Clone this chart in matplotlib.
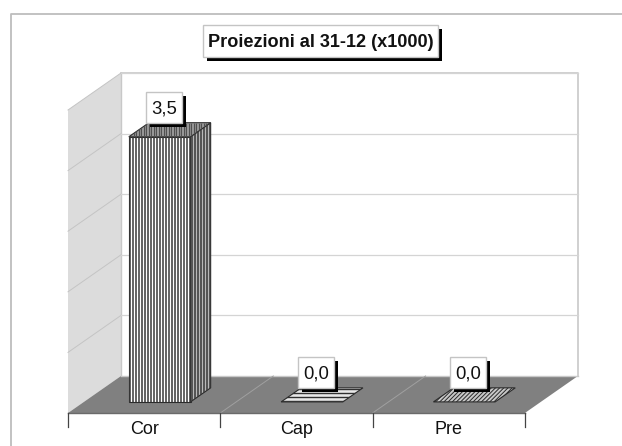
import matplotlib.pyplot as plt
import numpy as np
from matplotlib.collections import LineCollection
from matplotlib.patches import Polygon, Rectangle

CATEGORIES = ["Cor", "Cap", "Pre"]
VALUES     = [3.5, 0.0, 0.0]
LABELS     = ["3,5", "0,0", "0,0"]
TITLE      = "Proiezioni al 31-12 (x1000)"
AXIS_MAX   = 4.0
GRID_VALS  = [0.8, 1.6, 2.4, 3.2, 4.0]

# pixel geometry of the fake 3d box
X_FRONT, X_SPAN = 68.0, 152.3
Y_FLOOR, Y_H    = 413.0, 303.0
DX, DY          = 53.0, 37.0
BAR_START       = 0.295
BAR_WIDTH       = 0.405
DEPTH_A, DEPTH_B = 0.30, 0.68

FLOOR_COL = "#808080"
WALL_COL  = "#dcdcdc"
GRID_COL  = "#d4d4d4"
EDGE_COL  = "#2a2a2a"


def project(cat, depth, value):
    x = X_FRONT + cat * X_SPAN + depth * DX
    y = Y_FLOOR - depth * DY - value / AXIS_MAX * Y_H
    return x, y


def face(ax, pts, color, zorder, edge=EDGE_COL, **kw):
    patch = Polygon(pts, closed=True, facecolor=color, edgecolor=edge,
                    linewidth=0.8, zorder=zorder, **kw)
    ax.add_patch(patch)
    return patch


def stripes(ax, patch, segs, color, lw, zorder):
    lines = LineCollection(segs, colors=color, linewidths=lw, zorder=zorder)
    ax.add_collection(lines)
    lines.set_clip_path(patch)


def shadow_box(ax, cx, y0, y1, half_w, text, **kw):
    ax.add_patch(Rectangle((cx - half_w + 4, y0 + 4), 2 * half_w, y1 - y0,
                           facecolor="black", edgecolor="none", zorder=20))
    ax.add_patch(Rectangle((cx - half_w, y0), 2 * half_w, y1 - y0, facecolor="white",
                           edgecolor="#c4c4c4", linewidth=1.0, zorder=21))
    ax.text(cx, (y0 + y1) / 2 + 1.5, text, ha="center", va="center", zorder=22,
            color="#111111", **kw)


def draw_bar(ax, idx, value):
    left, right = idx + BAR_START, idx + BAR_START + BAR_WIDTH
    fbl = project(left, DEPTH_A, 0)
    fbr = project(right, DEPTH_A, 0)
    ftl = project(left, DEPTH_A, value)
    ftr = project(right, DEPTH_A, value)
    bbr = project(right, DEPTH_B, 0)
    btr = project(right, DEPTH_B, value)
    btl = project(left, DEPTH_B, value)

    if value > 0:
        front = face(ax, [fbl, fbr, ftr, ftl], "white", 5)
        xs = np.arange(fbl[0] + 1.5, fbr[0], 3.0)
        stripes(ax, front, [[(x, ftl[1]), (x, fbl[1])] for x in xs], "#383838", 1.1, 6)

        side = face(ax, [fbr, bbr, btr, ftr], "#b8b8b8", 5)
        xs = np.arange(fbr[0] + 1.5, bbr[0], 3.0)
        stripes(ax, side, [[(x, btr[1]), (x, fbr[1])] for x in xs], "#383838", 1.1, 6)

        top = face(ax, [ftl, ftr, btr, btl], "#a8a8a8", 5)
        xs = np.arange(ftl[0], btr[0], 2.5)
        stripes(ax, top, [[(x, btr[1]), (x, ftr[1])] for x in xs], "#505050", 1.0, 6)
    elif idx == 1:
        top = face(ax, [ftl, ftr, btr, btl], "#e8e8e8", 5)
        ys = np.arange(btr[1] + 1.5, ftr[1], 3.8)
        stripes(ax, top, [[(ftl[0], y), (btr[0], y)] for y in ys], "#303030", 1.0, 6)
    else:
        plt.rcParams["hatch.linewidth"] = 0.7
        plt.rcParams["hatch.color"] = "#303030"
        face(ax, [ftl, ftr, btr, btl], "#c8c8c8", 5, hatch="////////")

    return btr[1]


def main():
    fig = plt.figure(figsize=(6.22, 4.46), dpi=100)
    plt.rcParams["font.family"] = ["Liberation Sans", "DejaVu Sans"]
    ax = fig.add_axes([0, 0, 1, 1])
    ax.set_xlim(0, 622)
    ax.set_ylim(446, 0)
    ax.axis("off")

    # outer chart border, only top and left show
    ax.plot([10.5, 10.5, 622], [446, 13.5, 13.5], color="#bdbdbd", lw=1.3, zorder=1)

    n_cat = len(CATEGORIES)

    # walls
    face(ax, [project(0, 0, 0), project(0, 1, 0), project(0, 1, AXIS_MAX), project(0, 0, AXIS_MAX)],
         WALL_COL, 2, edge="none")
    ax.plot(*zip(project(0, 1, AXIS_MAX), project(n_cat, 1, AXIS_MAX), project(n_cat, 1, 0)),
            color="#c8c8c8", lw=1.2, zorder=2)
    ax.plot(*zip(project(0, 1, 0), project(0, 1, AXIS_MAX)), color="#c8c8c8", lw=1.0, zorder=2)

    # gridlines, wall side and back side
    for val in GRID_VALS:
        ax.plot(*zip(project(0, 0, val), project(0, 1, val)), color="#c4c4c4", lw=0.7, zorder=2)
        ax.plot(*zip(project(0, 1, val), project(n_cat, 1, val)), color=GRID_COL, lw=0.9, zorder=2)

    # floor
    face(ax, [project(0, 0, 0), project(n_cat, 0, 0), project(n_cat, 1, 0), project(0, 1, 0)],
         FLOOR_COL, 3, edge="none")
    ax.plot(*zip(project(0, 1, 0), project(n_cat, 1, 0)), color="#c8c8c8", lw=1.0, zorder=3)
    for i in range(1, n_cat):
        ax.plot(*zip(project(i, 0, 0), project(i, 1, 0)), color="#a0a0a0", lw=0.7, zorder=4)

    # category axis
    ax.plot(*zip(project(0, 0, 0), project(n_cat, 0, 0)), color="#6a6a6a", lw=1.0, zorder=4)
    for i in range(n_cat + 1):
        x, y = project(i, 0, 0)
        ax.plot([x, x], [y, y + 14], color="#444444", lw=0.9, zorder=4)

    for i, (cat, val, lab) in enumerate(zip(CATEGORIES, VALUES, LABELS)):
        top_y = draw_bar(ax, i, val)
        x, y = project(i + 0.5, 0, 0)
        ax.text(x, y + 16.5, cat, ha="center", va="center", fontsize=13, color="#111111")
        cx = project(i + BAR_START + BAR_WIDTH / 2, DEPTH_A, 0)[0] + 4.2
        shadow_box(ax, cx, top_y - 31, top_y, 18, lab, fontsize=13.3)

    shadow_box(ax, 320.5, 25, 56.5, 117.5, TITLE, fontsize=13.1, fontweight="bold")

    fig.savefig("out.png", dpi=100)
    plt.close(fig)


if __name__ == "__main__":
    main()
